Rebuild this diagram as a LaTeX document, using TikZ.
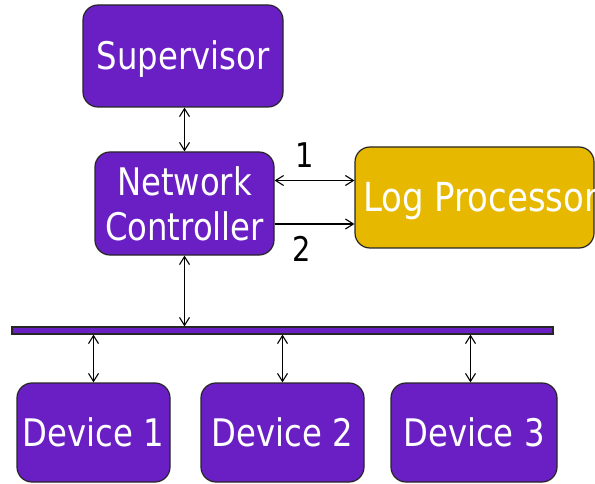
\documentclass[tikz,border=0pt]{standalone}
\usepackage{fontspec}
\setmainfont{DejaVu Sans}[FakeStretch=0.85]
\usetikzlibrary{arrows.meta}

\definecolor{roxo}{HTML}{6A1FC4}
\definecolor{ouro}{HTML}{E6B800}

\begin{document}
\begin{tikzpicture}[x=1pt, y=-1pt,
  bloco/.style={draw=black!85, line width=1.2pt, rounded corners=15pt, fill=roxo, text=white, inner sep=0pt, align=center, font=\fontsize{38}{45}\selectfont},
  linha/.style={text height=28pt, text depth=-3pt},
  barra/.style={draw=black!85, line width=1.2pt, fill=roxo, inner sep=0pt, minimum height=7pt},
  rotulo/.style={inner sep=0pt, font=\fontsize{34}{40}\selectfont},
  seta/.style={{Straight Barb[length=8pt,width=10pt]}-{Straight Barb[length=8pt,width=10pt]}, line width=1.1pt},
  setaum/.style={-{Straight Barb[length=8pt,width=10pt]}, line width=1.1pt}
]
\useasboundingbox (0,0) rectangle (595,484);
\clip (0,0) rectangle (595,484);
\node[bloco, linha, minimum width=200pt, minimum height=102pt] (sup) at (183,56) {Supervisor};
\node[bloco, minimum width=179pt, minimum height=103pt] (nc) at (184.5,203.5) {Network\\Controller};
\node[bloco, linha, fill=ouro, minimum width=239pt, minimum height=101pt, font=\fontsize{40}{45}\selectfont] (log) at (474.5,197.5) {\makebox[223pt][l]{Log Processor}};
\node[barra, minimum width=541pt] (bus) at (282.5,330.5) {};
% dispositivos no barramento
\node[bloco, linha, text depth=-8pt, minimum width=153pt, minimum height=99pt] (d1) at (93.5,432.5) {Device 1};
\node[bloco, linha, text depth=-8pt, minimum width=163pt, minimum height=99pt] (d2) at (282.5,432.5) {Device 2};
\node[bloco, linha, text depth=-8pt, minimum width=166pt, minimum height=99pt] (d3) at (474,432.5) {Device 3};
\node[rotulo] (r1) at (305,155) {1};
\node[rotulo] (r2) at (302,249) {2};
\draw[seta] (sup.south -| nc.north) -- (nc.north);
\draw[seta] ([yshift=23pt]nc.east) -- ([yshift=23pt]nc.east -| log.west);
\draw[setaum] ([yshift=-20.5pt]nc.east) -- ([yshift=-20.5pt]nc.east -| log.west);
\draw[seta] (nc.south) -- (nc.south |- bus.north);
\draw[seta] (d1.north |- bus.south) -- (d1.north);
\draw[seta] (d2.north |- bus.south) -- (d2.north);
\draw[seta] ([xshift=-3.5pt]d3.north |- bus.south) -- ([xshift=-3.5pt]d3.north);
\end{tikzpicture}
\end{document}
